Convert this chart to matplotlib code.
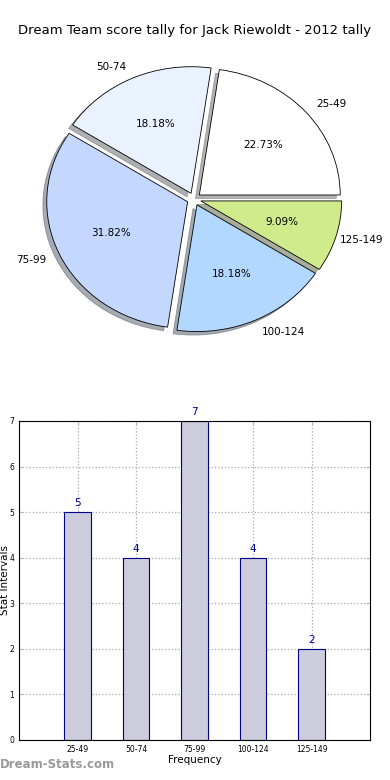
import matplotlib
matplotlib.use('Agg')
import matplotlib.pyplot as plt

# score tally data
categories = ['25-49', '50-74', '75-99', '100-124', '125-149']
counts = [5, 4, 7, 4, 2]
pie_colors = ['#ffffff', '#eaf1ff', '#c4d8ff', '#b3d8ff', '#d0eb8b']

fig = plt.figure(figsize=(3.9, 7.8), dpi=100)

# pie chart (slightly stretched, like the original)
ax1 = fig.add_axes([0.046, 0.5417, 0.903, 0.406])
wedges, texts, autotexts = ax1.pie(
    counts, labels=categories, colors=pie_colors, autopct='%1.2f%%',
    explode=[0.05] * len(counts), shadow={'ox': -0.02, 'oy': -0.02, 'shade': 0.6},
    startangle=0, counterclock=True,
    wedgeprops={'edgecolor': 'black', 'linewidth': 0.6},
    textprops={'fontsize': 7.5})
ax1.set_aspect('auto')
# keep the last label inside the figure
texts[-1].set_x(texts[-1].get_position()[0] - 0.07)
fig.text(0.5, 0.961, 'Dream Team score tally for Jack Riewoldt - 2012 tally',
         ha='center', va='center', fontsize=9.5)

# bar chart
ax2 = fig.add_axes([0.049, 0.0513, 0.9, 0.409])
pos = list(range(len(categories)))
bars = ax2.bar(pos, counts, width=0.45, color='#ccccdd', edgecolor='#000088',
               linewidth=0.8, zorder=2)
for b, c in zip(bars, counts):
    ax2.text(b.get_x() + b.get_width() / 2, c + 0.08, str(c), ha='center',
             va='bottom', color='#000099', fontsize=7.5)
ax2.set_xlim(-1, 5)
ax2.set_ylim(0, 7)
ax2.set_xticks(pos)
ax2.set_xticklabels(categories)
ax2.set_yticks(range(8))
ax2.tick_params(labelsize=5.5, direction='in', top=True, right=True, length=3,
                color='#bbbbbb')
ax2.grid(True, linestyle=':', color='#aaaaaa', linewidth=0.9, zorder=0)
ax2.set_axisbelow(True)
ax2.set_xlabel('Frequency', fontsize=7.5, labelpad=1)
for s in ax2.spines.values():
    s.set_linewidth(0.8)
fig.text(0.001, 0.256, 'Stat Intervals', rotation=90, ha='left', va='center',
         fontsize=7.5)

fig.text(0.0, 0.012, 'Dream-Stats.com', color='#999999', fontsize=8.5,
         fontweight='bold', ha='left', va='bottom')

fig.savefig('out.png', dpi=100)
